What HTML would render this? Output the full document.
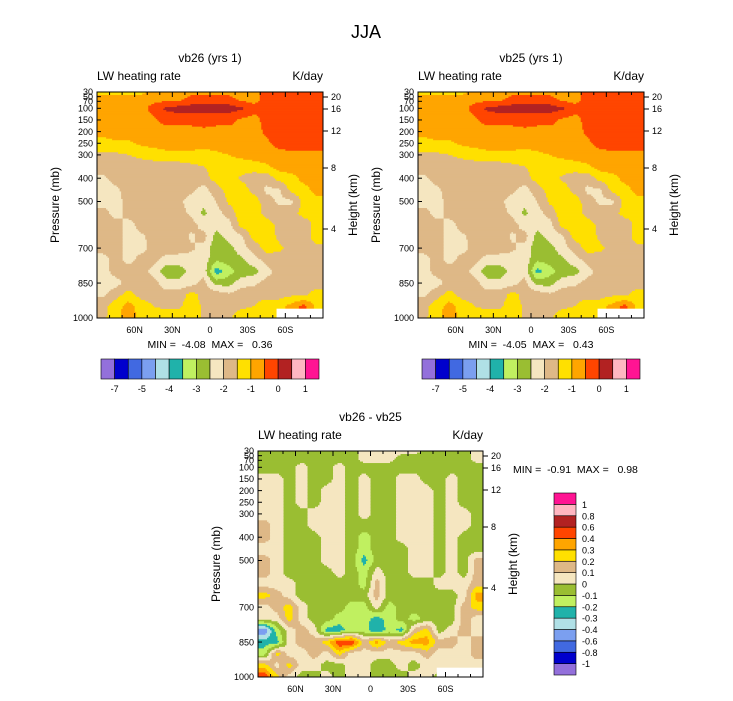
<!DOCTYPE html>
<html><head><meta charset="utf-8">
<style>
body{margin:0;background:#fff;}
svg{display:block;font-family:"Liberation Sans",sans-serif;}
text{white-space:pre;}
</style></head><body>
<svg id="root" width="733" height="701" viewBox="0 0 733 701">
<rect width="733" height="701" fill="#fff"/>
<text x="366" y="38" text-anchor="middle" font-size="18">JJA</text>
</svg>
<script>
// ---------- data ----------
const lats = [85,75,65,55,45,35,25,15,5,-5,-15,-25,-35,-45,-55,-65,-75,-85];
const pLevels = [30,60,100,150,200,250,300,350,400,450,500,550,600,650,700,750,800,850,900,950,1000];
const absLevels = [-7,-6,-5,-4.5,-4,-3.5,-3,-2.5,-2,-1.5,-1,-0.5,0,0.5,1];
const absLabels = ["-7","-5","-4","-3","-2","-1","0","1"];
const absLabelIdx = [0,2,4,6,8,10,12,14];
const diffLevels = [-1,-0.8,-0.6,-0.4,-0.3,-0.2,-0.1,0,0.1,0.2,0.3,0.4,0.6,0.8,1];
const diffLabels = ["-1","-0.8","-0.6","-0.4","-0.3","-0.2","-0.1","0","0.1","0.2","0.3","0.4","0.6","0.8","1"];
const colors = ["#9370db","#0000cd","#4169e1","#7b9ff0","#b0e0e6","#20b2aa","#c0f060","#9abe32","#f5e6c0","#deb887","#ffe000","#ffa500","#ff4500","#b22222","#ffb6c1","#ff1493"];
const pTicks = [30,50,70,100,150,200,250,300,400,500,700,850,1000];
const hTicks = [[20,97],[16,109],[12,131],[8,168],[4,229]];
const xTickLats = [60,30,0,-30,-60];
const xTickLabels = ["60N","30N","0","30S","60S"];

// vb26 field (K/day), rows = pLevels, cols = lats (N -> S)
const vb26 = [
[-1.2,-1.2,-1.2,-1.2,-0.7,-0.7,-0.7,-0.7,-0.7,-0.7,-0.7,-0.7,-0.7,-0.3,-0.3,-0.3,-0.3,-0.3],
[-0.7,-0.7,-0.7,-0.7,-0.7,-0.7,-0.7,-0.3,-0.3,-0.3,-0.3,-0.7,-0.7,-0.3,-0.3,-0.3,-0.3,-0.3],
[-0.7,-0.7,-0.7,-0.7,-0.3,0.1,0.2,0.2,0.2,0.2,0.2,0.1,-0.3,-0.3,-0.3,-0.3,-0.3,-0.3],
[-0.7,-0.7,-0.7,-0.7,-0.6,-0.3,-0.3,-0.3,-0.3,-0.3,-0.3,-0.6,-0.7,-0.3,-0.3,-0.3,-0.3,-0.3],
[-0.8,-0.7,-0.7,-0.7,-0.7,-0.7,-0.7,-0.7,-0.6,-0.7,-0.7,-0.7,-0.7,-0.4,-0.3,-0.3,-0.3,-0.3],
[-1.2,-1.1,-1.1,-0.9,-0.8,-0.7,-0.7,-0.7,-0.8,-0.8,-0.7,-0.7,-0.7,-0.6,-0.3,-0.3,-0.3,-0.3],
[-1.6,-1.6,-1.5,-1.4,-1.3,-1.2,-1.2,-1.2,-1.2,-1.1,-1.0,-0.9,-0.8,-0.7,-0.7,-0.6,-0.6,-0.6],
[-1.8,-1.8,-1.8,-1.7,-1.7,-1.7,-1.7,-1.6,-1.5,-1.3,-1.2,-1.2,-1.2,-1.1,-0.8,-0.7,-0.7,-0.7],
[-2.1,-1.8,-1.8,-1.8,-1.7,-1.7,-1.7,-1.7,-1.7,-1.3,-1.2,-1.6,-1.8,-1.8,-1.3,-1.2,-0.8,-0.8],
[-2.2,-2.1,-1.8,-1.8,-1.7,-1.7,-1.7,-1.9,-2.2,-1.7,-1.3,-1.2,-1.7,-2.1,-2.1,-1.3,-1.2,-0.8],
[-2.2,-2.2,-1.8,-1.7,-1.7,-1.8,-1.9,-2.2,-2.4,-2.0,-1.4,-1.2,-1.2,-1.8,-2.1,-2.1,-1.3,-1.2],
[-1.8,-2.2,-1.8,-1.7,-1.7,-1.7,-1.8,-2.1,-2.6,-2.2,-1.8,-1.2,-1.2,-1.7,-1.8,-1.7,-1.3,-1.3],
[-1.7,-1.8,-2.2,-1.8,-1.7,-1.7,-1.7,-1.8,-2.2,-2.3,-2.2,-1.3,-1.2,-1.2,-1.7,-1.8,-1.8,-1.3],
[-1.7,-1.8,-2.2,-2.1,-1.8,-1.7,-1.7,-2.1,-1.8,-2.7,-2.3,-2.1,-1.3,-1.2,-1.6,-1.8,-1.7,-1.3],
[-1.8,-1.8,-2.2,-2.2,-1.8,-1.7,-1.8,-1.9,-2.2,-2.8,-2.7,-2.2,-1.8,-1.3,-1.4,-1.7,-1.7,-1.6],
[-2.2,-1.8,-2.2,-1.8,-1.8,-2.2,-2.2,-2.2,-2.2,-2.9,-2.8,-2.6,-2.2,-1.8,-1.7,-1.7,-1.7,-1.7],
[-2.2,-1.8,-1.7,-1.7,-2.2,-2.8,-2.8,-2.3,-2.2,-3.8,-3.2,-2.8,-2.7,-2.2,-1.8,-1.7,-1.7,-1.7],
[-2.2,-2.2,-1.8,-1.7,-1.8,-2.3,-2.3,-2.2,-1.8,-2.7,-2.7,-2.2,-2.1,-1.8,-1.7,-1.7,-1.7,-1.7],
[-2.1,-1.7,-1.3,-1.7,-1.7,-1.8,-1.8,-1.3,-1.7,-1.7,-1.9,-1.7,-1.7,-1.7,-1.7,-1.6,-1.6,-1.3],
[-1.7,-1.2,-0.8,-1.2,-1.5,-1.6,-1.6,-1.2,-1.6,-1.7,-1.7,-1.6,-1.5,-1.2,-1.2,-0.8,-0.3,-1.2],
[-1.6,-1.2,-0.7,-1.2,-1.2,-1.2,-1.2,-1.2,-1.6,-1.7,-1.6,-1.2,-1.2,-1.2,-1.1,-0.7,-0.3,-1.2]
];
// vb25 field (K/day)
const vb25 = [
[-1.2,-1.2,-1.2,-1.2,-0.7,-0.7,-0.7,-0.7,-0.7,-0.7,-0.7,-0.7,-0.7,-0.3,-0.3,-0.3,-0.3,-0.3],
[-0.7,-0.7,-0.7,-0.7,-0.7,-0.7,-0.7,-0.3,-0.3,-0.3,-0.3,-0.7,-0.7,-0.3,-0.3,-0.3,-0.3,-0.3],
[-0.7,-0.7,-0.7,-0.7,-0.3,0.1,0.2,0.2,0.2,0.2,0.2,0.1,-0.3,-0.3,-0.3,-0.3,-0.3,-0.3],
[-0.7,-0.7,-0.7,-0.7,-0.6,-0.3,-0.3,-0.3,-0.3,-0.3,-0.3,-0.6,-0.7,-0.3,-0.3,-0.3,-0.3,-0.3],
[-0.8,-0.7,-0.7,-0.7,-0.7,-0.7,-0.7,-0.7,-0.6,-0.7,-0.7,-0.7,-0.7,-0.4,-0.3,-0.3,-0.3,-0.3],
[-1.2,-1.1,-1.1,-0.9,-0.8,-0.7,-0.7,-0.7,-0.8,-0.8,-0.7,-0.7,-0.7,-0.6,-0.3,-0.3,-0.3,-0.3],
[-1.6,-1.6,-1.5,-1.4,-1.3,-1.2,-1.2,-1.2,-1.2,-1.1,-1.0,-0.9,-0.8,-0.7,-0.7,-0.6,-0.6,-0.6],
[-1.8,-1.8,-1.8,-1.7,-1.7,-1.7,-1.7,-1.6,-1.5,-1.3,-1.2,-1.2,-1.2,-1.1,-0.8,-0.7,-0.7,-0.7],
[-2.1,-1.8,-1.8,-1.8,-1.7,-1.7,-1.7,-1.7,-1.7,-1.3,-1.2,-1.6,-1.8,-1.8,-1.3,-1.2,-0.8,-0.8],
[-2.2,-2.1,-1.8,-1.8,-1.7,-1.7,-1.7,-1.9,-2.2,-1.7,-1.3,-1.2,-1.7,-2.1,-2.1,-1.3,-1.2,-0.8],
[-2.2,-2.2,-1.8,-1.7,-1.7,-1.8,-1.9,-2.2,-2.4,-2.0,-1.4,-1.2,-1.2,-1.8,-2.1,-2.1,-1.3,-1.2],
[-1.8,-2.2,-1.8,-1.7,-1.7,-1.7,-1.8,-2.1,-2.6,-2.2,-1.8,-1.2,-1.2,-1.7,-1.8,-1.7,-1.3,-1.3],
[-1.7,-1.8,-2.2,-1.8,-1.7,-1.7,-1.7,-1.8,-2.2,-2.3,-2.2,-1.3,-1.2,-1.2,-1.7,-1.8,-1.8,-1.3],
[-1.7,-1.8,-2.2,-2.1,-1.8,-1.7,-1.7,-2.1,-1.8,-2.7,-2.3,-2.1,-1.3,-1.2,-1.6,-1.8,-1.7,-1.3],
[-1.8,-1.8,-2.2,-2.2,-1.8,-1.7,-1.8,-1.9,-2.2,-2.8,-2.7,-2.2,-1.8,-1.3,-1.4,-1.7,-1.7,-1.6],
[-2.2,-1.8,-2.2,-1.8,-1.8,-2.2,-2.2,-2.2,-2.2,-2.9,-2.8,-2.6,-2.2,-1.8,-1.7,-1.7,-1.7,-1.7],
[-2.2,-1.8,-1.7,-1.7,-2.2,-2.8,-2.8,-2.3,-2.2,-3.7,-3.2,-2.8,-2.7,-2.2,-1.8,-1.7,-1.7,-1.7],
[-2.2,-2.2,-1.8,-1.7,-1.8,-2.3,-2.3,-2.2,-1.8,-2.7,-2.7,-2.2,-2.1,-1.8,-1.7,-1.7,-1.7,-1.7],
[-2.1,-1.7,-1.3,-1.7,-1.7,-1.8,-1.8,-1.3,-1.7,-1.7,-1.9,-1.7,-1.7,-1.7,-1.7,-1.6,-1.6,-1.3],
[-1.7,-1.2,-0.8,-1.2,-1.5,-1.6,-1.6,-1.2,-1.6,-1.7,-1.7,-1.6,-1.5,-1.2,-1.2,-0.8,-0.3,-1.2],
[-1.6,-1.2,-0.7,-1.2,-1.2,-1.2,-1.2,-1.2,-1.6,-1.7,-1.6,-1.2,-1.2,-1.2,-1.1,-0.7,-0.3,-1.2]
];
// difference field vb26 - vb25 (K/day)
const diffField = [
[-0.05,-0.05,-0.05,-0.05,-0.05,-0.05,-0.05,-0.05,0.05,0.05,0.05,0.05,0.05,-0.05,-0.05,-0.05,-0.05,0.05],
[-0.05,-0.05,-0.05,-0.05,-0.05,-0.05,-0.05,-0.05,0.05,0.05,0.05,-0.05,-0.05,-0.05,-0.05,-0.05,-0.05,0.05],
[-0.05,-0.05,-0.05,0.05,-0.05,-0.05,0.05,-0.05,-0.05,-0.05,-0.05,-0.05,-0.05,-0.05,-0.05,-0.05,-0.05,-0.05],
[0.05,0.05,-0.05,0.05,-0.05,-0.05,0.05,-0.05,0.05,-0.05,-0.05,0.05,0.05,-0.05,-0.05,0.05,-0.05,-0.05],
[0.05,0.05,-0.05,0.05,-0.05,0.05,0.05,-0.05,0.05,-0.05,-0.05,0.05,0.05,0.05,-0.05,0.05,-0.05,-0.05],
[0.05,0.05,-0.05,0.05,-0.05,0.05,0.05,-0.05,0.05,-0.05,-0.05,0.05,0.05,0.05,-0.05,0.05,-0.05,-0.05],
[0.05,0.05,-0.05,-0.05,0.05,0.05,0.05,-0.05,0.05,-0.05,-0.05,0.05,0.05,0.05,-0.05,0.05,0.05,-0.05],
[0.15,0.05,-0.05,-0.05,0.05,0.05,0.05,-0.05,-0.05,-0.05,-0.05,0.05,0.05,0.05,-0.05,0.05,0.05,-0.05],
[0.15,0.05,-0.05,-0.05,-0.05,0.05,0.05,-0.05,-0.15,-0.05,-0.05,0.05,0.05,0.05,-0.05,0.05,-0.05,-0.05],
[0.05,0.05,-0.05,-0.05,-0.05,0.05,0.05,-0.05,-0.15,-0.05,-0.05,-0.05,0.05,0.05,-0.05,0.05,-0.05,-0.05],
[0.15,0.05,-0.05,-0.05,-0.05,0.05,0.05,-0.05,-0.25,-0.05,-0.05,-0.05,0.05,0.05,-0.05,0.05,-0.05,0.15],
[0.15,0.05,-0.05,-0.05,-0.05,-0.05,0.05,-0.05,-0.15,0.05,-0.05,-0.05,0.05,0.05,-0.05,0.05,-0.05,0.15],
[0.05,0.05,0.05,-0.05,-0.05,-0.05,-0.05,-0.05,-0.15,0.15,-0.05,-0.05,-0.05,-0.05,0.05,0.05,0.05,0.15],
[0.25,0.15,0.05,-0.05,-0.05,-0.05,-0.05,-0.05,-0.05,0.15,-0.05,-0.05,-0.05,-0.05,-0.05,-0.05,0.05,0.35],
[0.05,0.15,0.25,0.05,-0.05,-0.05,-0.05,-0.15,-0.15,0.05,-0.15,-0.05,-0.05,-0.05,-0.05,-0.05,0.15,0.25],
[0.05,0.05,0.25,0.05,-0.05,-0.05,-0.15,-0.15,-0.15,-0.25,-0.15,-0.05,-0.15,-0.05,-0.05,-0.05,0.15,0.05],
[-0.5,-0.15,0.05,0.15,0.05,-0.25,-0.25,-0.15,-0.15,-0.3,-0.15,-0.25,0.15,0.25,-0.05,0.05,0.15,0.05],
[-0.25,-0.25,0.05,0.15,0.15,0.25,0.5,0.5,0.15,0.35,0.15,0.25,0.35,0.35,0.15,0.15,0.05,0.15],
[-0.15,0.25,0.05,0.05,0.15,0.05,0.25,0.05,0.05,0.05,0.05,0.05,0.05,0.15,0.05,0.05,0.05,0.15],
[0.25,0.05,0.25,0.05,0.05,-0.05,-0.05,0.05,0.05,-0.05,-0.05,0.05,-0.05,0.05,0.05,0.05,0.05,0.05],
[0.5,0.25,0.05,-0.05,-0.05,0.05,-0.05,0.05,0.05,-0.05,-0.05,-0.05,0.05,0.05,-0.05,0.05,-0.25,0.05]
];

// ---------- drawing ----------
const NS="http://www.w3.org/2000/svg";
const root=document.getElementById('root');
function mk(tag,attrs,parent){const e=document.createElementNS(NS,tag);for(const k in attrs)e.setAttribute(k,attrs[k]);(parent||root).appendChild(e);return e;}
function txt(x,y,s,size,anchor,parent){const t=mk('text',{x:x,y:y,'font-size':size,'text-anchor':anchor||'start'},parent);t.textContent=s;return t;}
function colorFor(v,levels){let i=0;while(i<levels.length&&v>=levels[i])i++;return colors[i];}

function interp(field,lat,p){
  let fi; if(lat>=lats[0])fi=0;else if(lat<=lats[lats.length-1])fi=lats.length-1;else{fi=(lats[0]-lat)/10;}
  let pj=0;
  if(p<=pLevels[0])pj=0;else if(p>=pLevels[pLevels.length-1])pj=pLevels.length-1;
  else{for(let k=0;k<pLevels.length-1;k++){if(p>=pLevels[k]&&p<=pLevels[k+1]){pj=k+(p-pLevels[k])/(pLevels[k+1]-pLevels[k]);break;}}}
  const i0=Math.floor(fi),i1=Math.min(i0+1,lats.length-1),fx=fi-i0;
  const j0=Math.floor(pj),j1=Math.min(j0+1,pLevels.length-1),fy=pj-j0;
  const a=field[j0][i0]*(1-fx)+field[j0][i1]*fx;
  const b=field[j1][i0]*(1-fx)+field[j1][i1]*fx;
  return a*(1-fy)+b*fy;
}

function panel(o){
  const g=mk('g',{});
  
  
  const X0=o.x0,X1=o.x1,Y0=o.y0,Y1=o.y1;
  const xs=lat=>X0+(90-lat)/180*(X1-X0);
  const ys=p=>Y1-(1000-p)/970*(Y1-Y0);
  const latInv=x=>90-(x-X0)/(X1-X0)*180;
  const pInv=y=>1000-(Y1-y)/(Y1-Y0)*970;
  const field=mk('g',{},g);
  
  
  const nx=150,ny=150;
  const dx=(X1-X0)/nx,dy=(Y1-Y0)/ny;
  for(let j=0;j<ny;j++){
    const y=Y0+j*dy;
    const pc=pInv(y+dy/2);
    let runStart=0,runCol=null;
    for(let i=0;i<=nx;i++){
      const col=(i<nx)?colorFor(interp(o.data,latInv(X0+(i+0.5)*dx),pc),o.levels):null;
      if(col!==runCol){
        if(runCol!==null){
          const r=mk('rect',{x:(X0+runStart*dx).toFixed(2),y:y.toFixed(2),width:((i-runStart)*dx+0.4).toFixed(2),height:(dy+0.4).toFixed(2),fill:runCol},field);
          
          
        }
        runStart=i;runCol=col;
      }
    }
  }
  if(o.missing){const m=mk('rect',{x:xs(-53),y:ys(960),width:X1-xs(-53),height:Y1-ys(960),fill:'#fff'},g);
    
    }
  const fr=mk('rect',{x:X0,y:Y0,width:X1-X0,height:Y1-Y0,fill:'none',stroke:'#000','stroke-width':1},g);
  
  
  const pt=mk('g',{'font-size':9},g);
  
  
  pTicks.forEach(p=>{const y=ys(p);mk('line',{x1:X0,x2:X0+4,y1:y,y2:y,stroke:'#000'},pt);
    const t=txt(X0-4,y+3.2,String(p),9,'end',pt);
    
    });
  hTicks.forEach(h=>{const y=Y0+(h[1]-92)*(Y1-Y0)/226;mk('line',{x1:X1,x2:X1+5,y1:y,y2:y,stroke:'#000'},pt);
    const t=txt(X1+8,y+3.2,String(h[0]),9,'start',pt);
    
    });
  for(let l=80;l>=-80;l-=10){const x=xs(l);const L=(l%30===0)?5:3;mk('line',{x1:x,x2:x,y1:Y1,y2:Y1-L,stroke:'#000'},g);mk('line',{x1:x,x2:x,y1:Y0,y2:Y0+L,stroke:'#000'},g);}
  xTickLats.forEach((l,i)=>{const t=txt(xs(l),Y1+15,xTickLabels[i],9,'middle',g);
    
    });
  const pl=txt(0,0,'Pressure (mb)',12,'middle',g);pl.setAttribute('transform',`translate(${X0-38},${(Y0+Y1)/2}) rotate(-90)`);
  
  
  const hl=txt(0,0,'Height (km)',12,'middle',g);hl.setAttribute('transform',`translate(${X1+34},${(Y0+Y1)/2}) rotate(-90)`);
  
  
  const tt=txt((X0+X1)/2,Y0-30,o.title,12,'middle',g);
  
  
  const lw=txt(X0,Y0-12,'LW heating rate',12,'start',g);
  
  
  const ku=txt(X1,Y0-12,'K/day',12,'end',g);
  
  
  const mm=txt(o.mmX,o.mmY,o.minmax,10.5,o.mmAnchor,g);
  
  
}

function hBar(x0,x1,y0,y1){
  const g=mk('g',{});
  
  
  const w=(x1-x0)/colors.length;
  colors.forEach((c,i)=>{const r=mk('rect',{x:x0+i*w,y:y0,width:w,height:y1-y0,fill:c,stroke:'#000','stroke-width':0.6},g);
    
    });
  absLabels.forEach((s,i)=>{const t=txt(x0+(absLabelIdx[i]+1)*w,y1+13,s,9,'middle',g);
    
    });
}
function vBar(x0,x1,y0,y1){
  const g=mk('g',{});
  
  
  const h=(y1-y0)/colors.length;
  colors.forEach((c,i)=>{const r=mk('rect',{x:x0,y:y1-(i+1)*h,width:x1-x0,height:h,fill:c,stroke:'#000','stroke-width':0.6},g);
    
    });
  diffLabels.forEach((s,i)=>{const t=txt(x1+6,y1-(i+1)*h+3.5,s,9,'start',g);
    
    });
}

panel({name:'panel-vb26',x0:97,x1:323,y0:92,y1:318,data:vb26,levels:absLevels,title:'vb26 (yrs 1)',minmax:'MIN =  -4.08  MAX =   0.36',mmX:210,mmY:348,mmAnchor:'middle',missing:true});
panel({name:'panel-vb25',x0:418,x1:644,y0:92,y1:318,data:vb25,levels:absLevels,title:'vb25 (yrs 1)',minmax:'MIN =  -4.05  MAX =   0.43',mmX:531,mmY:348,mmAnchor:'middle',missing:true});
panel({name:'panel-diff',x0:258,x1:483,y0:451,y1:677,data:diffField,levels:diffLevels,title:'vb26 - vb25',minmax:'MIN =  -0.91  MAX =   0.98',mmX:513,mmY:473,mmAnchor:'start',missing:true});
hBar(101,319,359,379);
hBar(422,640,359,379);
vBar(554,576,493,675);
</script>
</body></html>
